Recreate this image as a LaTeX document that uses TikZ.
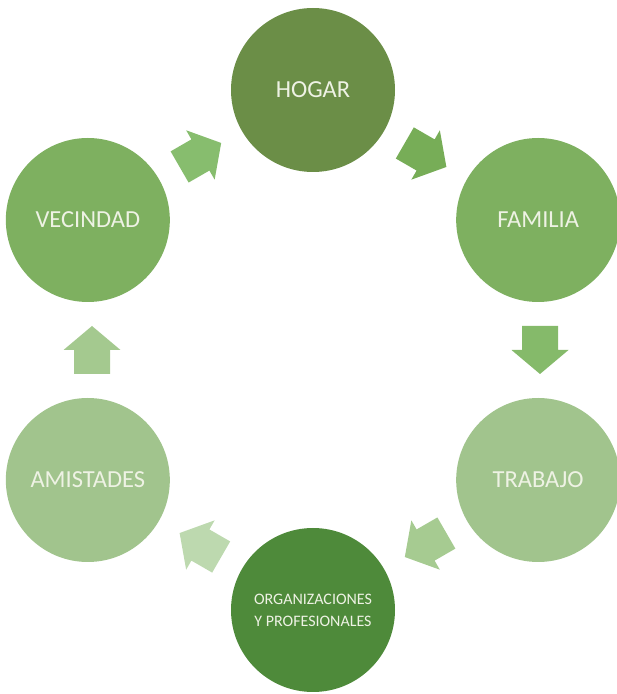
\documentclass[tikz,border=0pt]{standalone}
\usepackage{fontspec}
\setmainfont{Carlito}
\definecolor{cHogar}{HTML}{6B8E47}
\definecolor{cMid}{HTML}{7EB060}
\definecolor{cLight}{HTML}{A1C48D}
\definecolor{cOrg}{HTML}{4E8A3A}
\definecolor{aOne}{HTML}{77AD57}
\definecolor{aTwo}{HTML}{85BA6A}
\definecolor{aThree}{HTML}{A6CB91}
\definecolor{aFour}{HTML}{BDD9AF}
\definecolor{aFive}{HTML}{A4C98F}
\definecolor{aSix}{HTML}{87BD6E}
\definecolor{txt}{HTML}{EEF2E4}
\tikzset{
  circ/.style={circle, minimum size=164pt, inner sep=0pt, text=txt,
    font=\fontsize{24.5}{28}\selectfont},
  smalltxt/.style={font=\fontsize{16}{22}\selectfont, align=center},
  blockarrow/.pic={\path[pic actions] (-24,-18) -- (0,-18) -- (0,-28.5) -- (24,0) -- (0,28.5) -- (0,18) -- (-24,18) -- cycle;}
}
\begin{document}
\begin{tikzpicture}[x=1pt,y=1pt]
\useasboundingbox (0,0) rectangle (617,694);
\begin{scope}[shift={(313,344)}]
  \node[circ, fill=cHogar] (hogar) at (90:260) {HOGAR};
  \node[circ, fill=cMid] (familia) at (30:260) {FAMILIA};
  \node[circ, fill=cLight] (trabajo) at (-30:260) {TRABAJO};
  \node[circ, fill=cOrg, smalltxt] (org) at (-90:260) {ORGANIZACIONES\\Y PROFESIONALES};
  \node[circ, fill=cLight] (amistades) at (-150:260) {AMISTADES};
  \node[circ, fill=cMid] (vecindad) at (150:260) {VECINDAD};
  \coordinate (a1) at (60:225.2);
  \coordinate (a2) at (0:227);
  \coordinate (a3) at (-60:225.2);
  \coordinate (a4) at (-120:225.2);
  \coordinate (a5) at (180:221);
  \coordinate (a6) at (120:225.2);
\end{scope}
\pic[fill=aOne, rotate=-30] at (a1) {blockarrow};
\pic[fill=aTwo, rotate=-90] at (a2) {blockarrow};
\pic[fill=aThree, rotate=-150] at (a3) {blockarrow};
\pic[fill=aFour, rotate=150] at (a4) {blockarrow};
\pic[fill=aFive, rotate=90] at (a5) {blockarrow};
\pic[fill=aSix, rotate=30] at (a6) {blockarrow};
\end{tikzpicture}
\end{document}
